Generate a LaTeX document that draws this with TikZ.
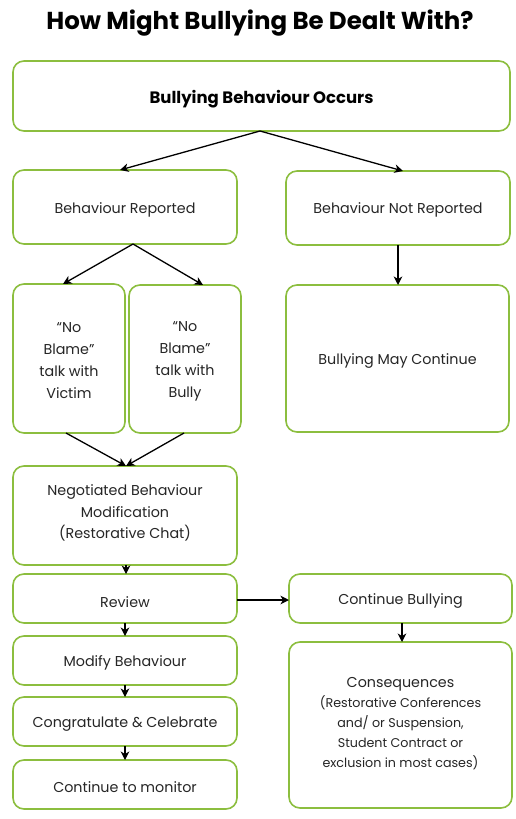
\documentclass[tikz,border=0pt]{standalone}
\usepackage{fontspec}
\setmainfont{Poppins}
\usetikzlibrary{arrows.meta}
\definecolor{boxgreen}{HTML}{8CBE3F}
\tikzset{
  box/.style={draw=boxgreen, line width=1.6pt, rounded corners=11pt, fill=white},
  txt/.style={font=\fontsize{14.3}{22}\selectfont, align=center, text=black!85, yshift=-2pt},
  arr/.style={-{Stealth[length=8.5pt,width=8.5pt,inset=2.5pt]}, line width=1.3pt, black},
}
\begin{document}
\begin{tikzpicture}[x=1pt,y=-1pt]
\useasboundingbox (0,0) rectangle (515,819);
% title
\node (title) at (260,23) {\fontsize{24.5}{28}\selectfont\bfseries How Might Bullying Be Dealt With?};
% boxes
\draw[box] (13,61) rectangle (510,131);
\node[txt,font=\fontsize{16.5}{20}\selectfont\bfseries,text=black] (occ) at (261.5,97) {Bullying Behaviour Occurs};
\coordinate (occb) at (260,131);

\draw[box] (13,170) rectangle (237,244);
\node[txt] (rep) at (125,208) {Behaviour Reported};
\coordinate (rept) at (120,170);
\coordinate (repb) at (133,244);

\draw[box] (286,171) rectangle (510,245);
\node[txt] (nrep) at (398,208) {Behaviour Not Reported};
\coordinate (nrept) at (403,171);
\coordinate (nrepb) at (398,245);

\draw[box] (13,284) rectangle (125,433);
\node[txt] (vic) at (69,359) {“No\\Blame”\\talk with\\Victim};
\coordinate (vict) at (63,284);
\coordinate (vicb) at (66,433);

\draw[box] (129,285) rectangle (241,433);
\node[txt] (bul) at (185,359) {“No\\Blame”\\talk with\\Bully};
\coordinate (bult) at (203,285);
\coordinate (bulb) at (184,433);

\draw[box] (286,285) rectangle (509,432);
\node[txt] (cont) at (397.5,359) {Bullying May Continue};
\coordinate (contt) at (398,285);

\draw[box] (13,466) rectangle (237,565);
\node[txt,font=\fontsize{14.3}{21.5}\selectfont] (neg) at (125,511) {Negotiated Behaviour\\Modification\\(Restorative Chat)};
\coordinate (negt) at (126,466);
\coordinate (negb) at (126,565);

\draw[box] (13,574) rectangle (237,623);
\node[txt] (rev) at (125,600) {Review};
\coordinate (revt) at (126,574);
\coordinate (revb) at (125,623);
\coordinate (revr) at (237,600);

\draw[box] (289,574) rectangle (512,623);
\node[txt] (cb) at (400.5,599) {Continue Bullying};
\coordinate (cbl) at (289,600);
\coordinate (cbb) at (402,623);

\draw[box] (289,642) rectangle (512,808);
\node[txt,font=\fontsize{14.3}{20}\selectfont,yshift=-0.5pt] (cons) at (400.5,721) {Consequences\\{\fontsize{12.7}{20}\selectfont(Restorative Conferences}\\{\fontsize{12.7}{20}\selectfont and/ or Suspension,}\\{\fontsize{12.7}{20}\selectfont Student Contract or}\\{\fontsize{12.7}{20}\selectfont exclusion in most cases)}};
\coordinate (const) at (402,642);

\draw[box] (13,636) rectangle (237,685);
\node[txt] (mod) at (125,661) {Modify Behaviour};
\coordinate (modt) at (125,636);
\coordinate (modb) at (125,685);

\draw[box] (13,697) rectangle (237,746);
\node[txt] (cong) at (125,722) {Congratulate \& Celebrate};
\coordinate (congt) at (125,697);
\coordinate (congb) at (125,746);

\draw[box] (13,760) rectangle (237,809);
\node[txt] (mon) at (125,785) {Continue to monitor};
\coordinate (mont) at (125,760);

% arrows
\draw[arr] (occb) -- (rept);
\draw[arr] (occb) -- (nrept);
\draw[arr] (repb) -- (vict);
\draw[arr] (repb) -- (bult);
\draw[arr] (nrepb) -- (contt);
\draw[arr] (vicb) -- (negt);
\draw[arr] (bulb) -- (negt);
\draw[arr] (negb) -- (revt);
\draw[arr] (revr) -- (cbl);
\draw[arr] (cbb) -- (const);
\draw[arr] (revb) -- (modt);
\draw[arr] (modb) -- (congt);
\draw[arr] (congb) -- (mont);
\end{tikzpicture}
\end{document}
